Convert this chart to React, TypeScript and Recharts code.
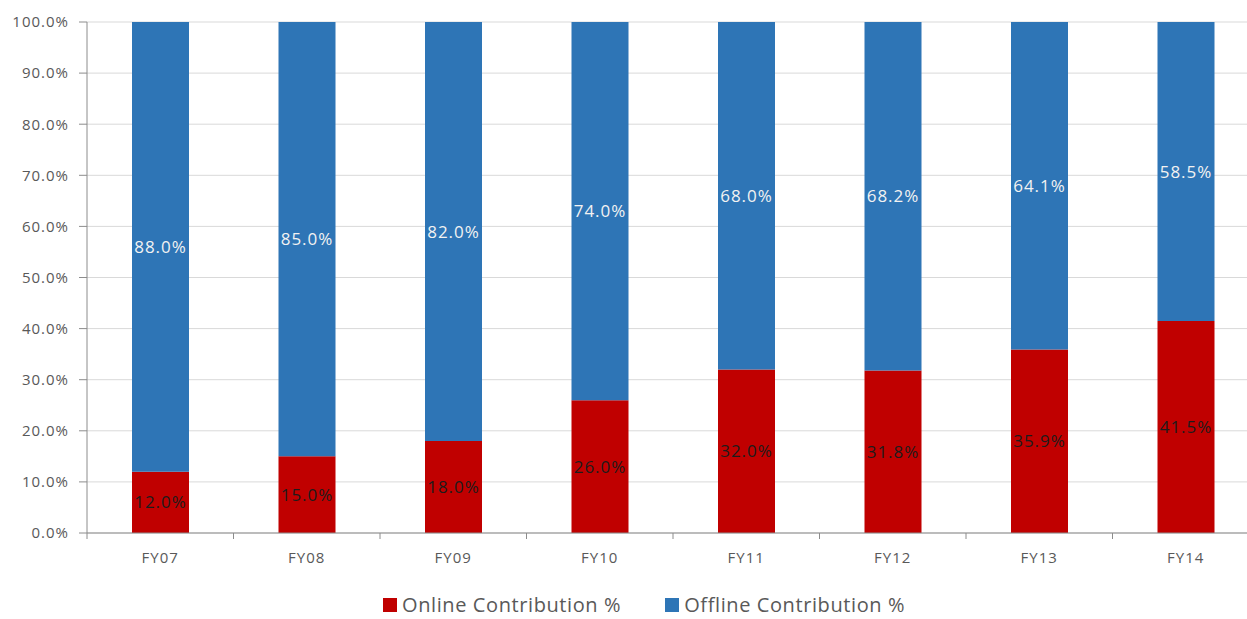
import { BarChart, Bar, XAxis, YAxis, CartesianGrid, LabelList } from "recharts";

const years = ["FY07", "FY08", "FY09", "FY10", "FY11", "FY12", "FY13", "FY14"];
const onlineShare = [12.0, 15.0, 18.0, 26.0, 32.0, 31.8, 35.9, 41.5];
const offlineShare = [88.0, 85.0, 82.0, 74.0, 68.0, 68.2, 64.1, 58.5];
const yTicks = [0, 10, 20, 30, 40, 50, 60, 70, 80, 90, 100];

const series = [
  { key: "online", name: "Online Contribution %", color: "#c00000", labelColor: "#1c1c1c" },
  { key: "offline", name: "Offline Contribution %", color: "#2e75b6", labelColor: "#f2f2f2" },
];

const chartData = years.map((year, i) => ({
  year,
  online: onlineShare[i],
  offline: offlineShare[i],
}));

const FONT = "'Open Sans', Lato, sans-serif";
const AXIS_COLOR = "#8c8c8c";
const TEXT_COLOR = "#595959";

// plot box: left edge of the y axis, width of one category band, axis baseline
const PLOT_LEFT = 87;
const BAND = 146.5;
const PLOT_TOP = 22;
const PLOT_HEIGHT = 511;
const AXIS_Y = PLOT_TOP + PLOT_HEIGHT;
const CHART_H = 619;
const CHART_W = PLOT_LEFT + BAND * years.length + 6;

const pct = (v: number) => `${v.toFixed(1)}%`;

// category label plus tick marks on the band edges instead of the centers
function YearTick(props: any) {
  const { x, payload, index } = props;
  const last = index === years.length - 1;
  return (
    <g>
      <text
        x={x}
        y={AXIS_Y + 30}
        textAnchor="middle"
        fill={TEXT_COLOR}
        fontSize={15}
        letterSpacing={1}
        fontFamily={FONT}
      >
        {payload.value}
      </text>
      <line x1={x - BAND / 2} x2={x - BAND / 2} y1={AXIS_Y} y2={AXIS_Y + 6} stroke={AXIS_COLOR} />
      {last && <line x1={x + BAND / 2} x2={x + BAND / 2} y1={AXIS_Y} y2={AXIS_Y + 6} stroke={AXIS_COLOR} />}
    </g>
  );
}

function ChartLegend() {
  return (
    <div
      style={{
        position: "absolute",
        left: 383,
        top: 594,
        display: "flex",
        alignItems: "center",
        gap: 44,
        fontFamily: FONT,
        fontSize: 20,
        lineHeight: "21px",
        letterSpacing: 0.6,
        color: TEXT_COLOR,
        whiteSpace: "nowrap",
      }}
    >
      {series.map((s) => (
        <div key={s.key} style={{ display: "flex", alignItems: "center", gap: 5 }}>
          <span style={{ width: 14, height: 14, background: s.color, display: "inline-block" }} />
          <span>{s.name}</span>
        </div>
      ))}
    </div>
  );
}

export default function App() {
  return (
    <div
      style={{
        position: "absolute",
        left: 0,
        top: 0,
        width: 1247,
        height: CHART_H,
        overflow: "hidden",
        background: "#ffffff",
      }}
    >
      <BarChart
        width={CHART_W}
        height={CHART_H}
        data={chartData}
        margin={{ top: PLOT_TOP, right: 6, left: 0, bottom: 0 }}
        barSize={57}
      >
        <CartesianGrid vertical={false} stroke="#d9d9d9" />
        <XAxis
          dataKey="year"
          tick={<YearTick />}
          tickLine={false}
          axisLine={{ stroke: AXIS_COLOR }}
          height={CHART_H - AXIS_Y}
          interval={0}
        />
        <YAxis
          width={PLOT_LEFT}
          domain={[0, 100]}
          ticks={yTicks}
          tickFormatter={pct}
          tick={{ fill: TEXT_COLOR, fontSize: 15, fontFamily: FONT, letterSpacing: 1 }}
          tickSize={8}
          tickMargin={10}
          tickLine={{ stroke: AXIS_COLOR }}
          axisLine={{ stroke: AXIS_COLOR }}
          interval={0}
        />
        {series.map((s) => (
          <Bar
            key={s.key}
            dataKey={s.key}
            name={s.name}
            stackId="share"
            fill={s.color}
            isAnimationActive={false}
          >
            <LabelList
              dataKey={s.key}
              position="center"
              formatter={(v: any) => pct(Number(v))}
              style={{ fill: s.labelColor, fontSize: 17, fontFamily: FONT, letterSpacing: 1 }}
            />
          </Bar>
        ))}
      </BarChart>
      <ChartLegend />
    </div>
  );
}
